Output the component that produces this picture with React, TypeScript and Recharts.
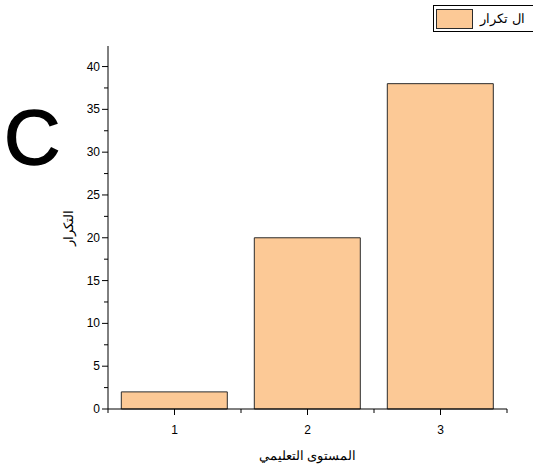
import React from 'react';
import { BarChart, Bar, XAxis, YAxis, Label } from 'recharts';

const levels = [1, 2, 3];
const frequency = [2, 20, 38];
const xTicks = [0.5, 1, 1.5, 2, 2.5, 3, 3.5];
const yTicks = [0, 2.5, 5, 7.5, 10, 12.5, 15, 17.5, 20, 22.5, 25, 27.5, 30, 32.5, 35, 37.5, 40];
const xTitle = 'المستوى التعليمي';
const yTitle = 'التكرار';
const seriesName = 'ال تكرار';
const panelLetter = 'C';

const data = levels.map((l, i) => ({ level: l, freq: frequency[i] }));

const FILL = '#FCC996';
const STROKE = '#2b2b2b';
const FONT = '"Liberation Sans", Arial, sans-serif';

const XTick = (props: any) => {
  const { x, y, payload } = props;
  const v = payload.value;
  const major = Number.isInteger(v);
  return (
    <g>
      <line x1={x} x2={x} y1={y} y2={y + (major ? 6 : 4)} stroke="#000" strokeWidth={1} />
      {major && (
        <text x={x} y={y + 25} textAnchor="middle" fontSize={12} fontFamily={FONT} fill="#000">
          {v}
        </text>
      )}
    </g>
  );
};

const YTick = (props: any) => {
  const { x, y, payload } = props;
  const v = payload.value;
  const major = v % 5 === 0;
  return (
    <g>
      <line x1={x} x2={x - (major ? 6 : 4)} y1={y} y2={y} stroke="#000" strokeWidth={1} />
      {major && (
        <text x={x - 8} y={y + 4} textAnchor="end" fontSize={12} fontFamily={FONT} fill="#000">
          {v}
        </text>
      )}
    </g>
  );
};

const LegendBox = () => (
  <div
    style={{
      position: 'absolute',
      top: 5,
      left: 433,
      display: 'flex',
      alignItems: 'center',
      border: '1px solid #000',
      background: '#fff',
      height: 27,
      width: 110,
      boxSizing: 'border-box',
      paddingLeft: 2,
      fontFamily: FONT,
      fontSize: 13,
    }}
  >
    <div style={{ width: 37, height: 20, background: FILL, border: `1px solid ${STROKE}`, boxSizing: 'border-box' }} />
    <span style={{ marginLeft: 7, whiteSpace: 'nowrap' }}>{seriesName}</span>
  </div>
);

export default function App() {
  return (
    <div style={{ position: 'absolute', left: 0, top: 0, width: 533, height: 470, overflow: 'hidden', background: '#fff' }}>
      <BarChart width={533} height={470} data={data} margin={{ top: 46, right: 26, bottom: 0, left: 0 }}>
        <XAxis
          dataKey="level"
          type="number"
          domain={[0.5, 3.5]}
          ticks={xTicks}
          interval={0}
          height={61}
          tickSize={0}
          tickMargin={0}
          tickLine={false}
          tick={<XTick />}
          axisLine={{ stroke: '#000', strokeWidth: 1 }}
          allowDecimals
        >
          <Label
            value={xTitle}
            position="insideTop"
            offset={42}
            style={{ fontFamily: FONT, fontSize: 13, fill: '#000' }}
          />
        </XAxis>
        <YAxis
          type="number"
          domain={[0, 42.4]}
          ticks={yTicks}
          interval={0}
          width={108}
          tickSize={0}
          tickMargin={0}
          tickLine={false}
          tick={<YTick />}
          axisLine={{ stroke: '#000', strokeWidth: 1 }}
          allowDecimals
        >
          <Label
            value={yTitle}
            angle={-90}
            position="insideLeft"
            offset={68}
            style={{ fontFamily: FONT, fontSize: 13, fill: '#000', textAnchor: 'middle' }}
          />
        </YAxis>
        <Bar
          dataKey="freq"
          name={seriesName}
          fill={FILL}
          stroke={STROKE}
          strokeWidth={1}
          isAnimationActive={false}
        />
      </BarChart>
      <LegendBox />
      <div
        style={{
          position: 'absolute',
          left: 4,
          top: 98,
          fontFamily: FONT,
          fontSize: 78,
          lineHeight: '78px',
          color: '#000',
          WebkitTextStroke: '1.5px #000',
        }}
      >
        {panelLetter}
      </div>
    </div>
  );
}
